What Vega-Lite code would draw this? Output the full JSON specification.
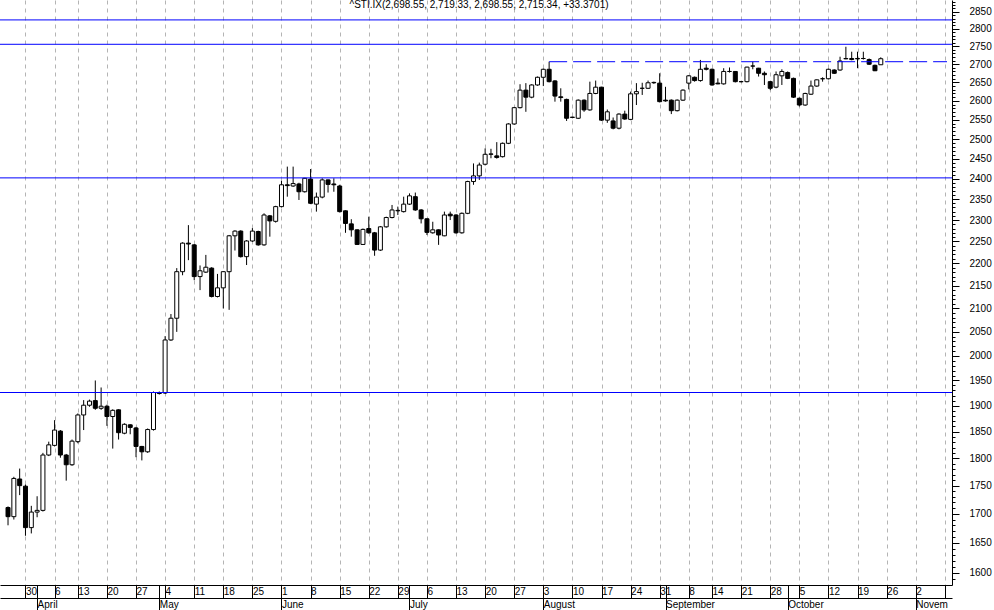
{
  "$schema": "https://vega.github.io/schema/vega-lite/v6.json",
  "width": 952,
  "height": 585,
  "autosize": {"type": "none"},
  "padding": {"left": 0, "top": 0, "right": 42, "bottom": 25},
  "background": "white",
  "title": {"text": "^STI.IX(2,698.55, 2,719.33, 2,698.55, 2,715.34, +33.3701)", "anchor": "middle", "frame": "group", "orient": "top", "offset": -21, "baseline": "alphabetic", "dx": 3, "font": "Liberation Sans", "fontSize": 10, "fontWeight": "normal", "color": "black"},
  "datasets": {
    "candles": [
      {"date":"2009-03-25","i":-3,"o":1711,"h":1713,"l":1680,"c":1695},
      {"date":"2009-03-26","i":-2,"o":1695,"h":1766,"l":1690,"c":1763},
      {"date":"2009-03-27","i":-1,"o":1762,"h":1781,"l":1733,"c":1750},
      {"date":"2009-03-30","i":0,"o":1749,"h":1752,"l":1662,"c":1676},
      {"date":"2009-03-31","i":1,"o":1676,"h":1714,"l":1666,"c":1703},
      {"date":"2009-04-01","i":2,"o":1703,"h":1731,"l":1694,"c":1706},
      {"date":"2009-04-02","i":3,"o":1706,"h":1810,"l":1704,"c":1806},
      {"date":"2009-04-03","i":4,"o":1806,"h":1831,"l":1804,"c":1825},
      {"date":"2009-04-06","i":5,"o":1824,"h":1872,"l":1822,"c":1853},
      {"date":"2009-04-07","i":6,"o":1851,"h":1853,"l":1801,"c":1806},
      {"date":"2009-04-08","i":7,"o":1806,"h":1808,"l":1759,"c":1788},
      {"date":"2009-04-09","i":8,"o":1788,"h":1835,"l":1786,"c":1832},
      {"date":"2009-04-13","i":9,"o":1831,"h":1885,"l":1828,"c":1882},
      {"date":"2009-04-14","i":10,"o":1882,"h":1911,"l":1853,"c":1901},
      {"date":"2009-04-15","i":11,"o":1901,"h":1912,"l":1898,"c":1909},
      {"date":"2009-04-16","i":12,"o":1910,"h":1950,"l":1892,"c":1895},
      {"date":"2009-04-17","i":13,"o":1895,"h":1936,"l":1892,"c":1899},
      {"date":"2009-04-20","i":14,"o":1899,"h":1902,"l":1861,"c":1879},
      {"date":"2009-04-21","i":15,"o":1879,"h":1893,"l":1818,"c":1891},
      {"date":"2009-04-22","i":16,"o":1892,"h":1893,"l":1835,"c":1848},
      {"date":"2009-04-23","i":17,"o":1847,"h":1866,"l":1845,"c":1864},
      {"date":"2009-04-24","i":18,"o":1863,"h":1864,"l":1845,"c":1858},
      {"date":"2009-04-27","i":19,"o":1857,"h":1859,"l":1802,"c":1822},
      {"date":"2009-04-28","i":20,"o":1822,"h":1823,"l":1796,"c":1812},
      {"date":"2009-04-29","i":21,"o":1812,"h":1856,"l":1810,"c":1854},
      {"date":"2009-04-30","i":22,"o":1854,"h":1928,"l":1852,"c":1926},
      {"date":"2009-05-01","i":23,"o":1926,"h":1928,"l":1922,"c":1924},
      {"date":"2009-05-04","i":24,"o":1925,"h":2041,"l":1923,"c":2033},
      {"date":"2009-05-05","i":25,"o":2033,"h":2088,"l":2031,"c":2079},
      {"date":"2009-05-06","i":26,"o":2079,"h":2189,"l":2050,"c":2181},
      {"date":"2009-05-07","i":27,"o":2181,"h":2248,"l":2173,"c":2246},
      {"date":"2009-05-08","i":28,"o":2246,"h":2288,"l":2207,"c":2244},
      {"date":"2009-05-11","i":29,"o":2242,"h":2244,"l":2162,"c":2170},
      {"date":"2009-05-12","i":30,"o":2170,"h":2195,"l":2140,"c":2183},
      {"date":"2009-05-13","i":31,"o":2180,"h":2219,"l":2178,"c":2191},
      {"date":"2009-05-14","i":32,"o":2189,"h":2191,"l":2124,"c":2126},
      {"date":"2009-05-15","i":33,"o":2126,"h":2176,"l":2124,"c":2145},
      {"date":"2009-05-18","i":34,"o":2145,"h":2182,"l":2100,"c":2181},
      {"date":"2009-05-19","i":35,"o":2181,"h":2265,"l":2097,"c":2263},
      {"date":"2009-05-20","i":36,"o":2263,"h":2276,"l":2229,"c":2274},
      {"date":"2009-05-21","i":37,"o":2274,"h":2276,"l":2213,"c":2215},
      {"date":"2009-05-22","i":38,"o":2215,"h":2253,"l":2196,"c":2251},
      {"date":"2009-05-25","i":39,"o":2251,"h":2281,"l":2249,"c":2274},
      {"date":"2009-05-26","i":40,"o":2273,"h":2275,"l":2240,"c":2242},
      {"date":"2009-05-27","i":41,"o":2242,"h":2316,"l":2240,"c":2312},
      {"date":"2009-05-28","i":42,"o":2310,"h":2312,"l":2261,"c":2298},
      {"date":"2009-05-29","i":43,"o":2297,"h":2334,"l":2294,"c":2332},
      {"date":"2009-06-01","i":44,"o":2332,"h":2395,"l":2330,"c":2385},
      {"date":"2009-06-02","i":45,"o":2385,"h":2430,"l":2356,"c":2383},
      {"date":"2009-06-03","i":46,"o":2382,"h":2430,"l":2380,"c":2388},
      {"date":"2009-06-04","i":47,"o":2387,"h":2390,"l":2348,"c":2368},
      {"date":"2009-06-05","i":48,"o":2368,"h":2402,"l":2366,"c":2401},
      {"date":"2009-06-08","i":49,"o":2399,"h":2424,"l":2338,"c":2340},
      {"date":"2009-06-09","i":50,"o":2338,"h":2366,"l":2320,"c":2355},
      {"date":"2009-06-10","i":51,"o":2355,"h":2401,"l":2352,"c":2397},
      {"date":"2009-06-11","i":52,"o":2397,"h":2398,"l":2366,"c":2386},
      {"date":"2009-06-12","i":53,"o":2387,"h":2401,"l":2368,"c":2385},
      {"date":"2009-06-15","i":54,"o":2382,"h":2385,"l":2318,"c":2320},
      {"date":"2009-06-16","i":55,"o":2322,"h":2323,"l":2270,"c":2292},
      {"date":"2009-06-17","i":56,"o":2291,"h":2302,"l":2261,"c":2277},
      {"date":"2009-06-18","i":57,"o":2277,"h":2278,"l":2242,"c":2243},
      {"date":"2009-06-19","i":58,"o":2243,"h":2280,"l":2242,"c":2278},
      {"date":"2009-06-22","i":59,"o":2280,"h":2308,"l":2268,"c":2270},
      {"date":"2009-06-23","i":60,"o":2270,"h":2272,"l":2217,"c":2230},
      {"date":"2009-06-24","i":61,"o":2230,"h":2286,"l":2228,"c":2284},
      {"date":"2009-06-25","i":62,"o":2284,"h":2308,"l":2282,"c":2306},
      {"date":"2009-06-26","i":63,"o":2306,"h":2336,"l":2304,"c":2324},
      {"date":"2009-06-29","i":64,"o":2322,"h":2332,"l":2312,"c":2323},
      {"date":"2009-06-30","i":65,"o":2320,"h":2356,"l":2318,"c":2338},
      {"date":"2009-07-01","i":66,"o":2338,"h":2364,"l":2336,"c":2358},
      {"date":"2009-07-02","i":67,"o":2356,"h":2366,"l":2322,"c":2324},
      {"date":"2009-07-03","i":68,"o":2324,"h":2326,"l":2292,"c":2303},
      {"date":"2009-07-06","i":69,"o":2303,"h":2304,"l":2265,"c":2271},
      {"date":"2009-07-07","i":70,"o":2270,"h":2296,"l":2268,"c":2277},
      {"date":"2009-07-08","i":71,"o":2277,"h":2278,"l":2242,"c":2265},
      {"date":"2009-07-09","i":72,"o":2263,"h":2320,"l":2262,"c":2312},
      {"date":"2009-07-10","i":73,"o":2314,"h":2320,"l":2300,"c":2310},
      {"date":"2009-07-13","i":74,"o":2312,"h":2314,"l":2268,"c":2270},
      {"date":"2009-07-14","i":75,"o":2270,"h":2318,"l":2268,"c":2316},
      {"date":"2009-07-15","i":76,"o":2316,"h":2395,"l":2314,"c":2393},
      {"date":"2009-07-16","i":77,"o":2393,"h":2438,"l":2385,"c":2407},
      {"date":"2009-07-17","i":78,"o":2407,"h":2440,"l":2397,"c":2434},
      {"date":"2009-07-20","i":79,"o":2436,"h":2476,"l":2433,"c":2461},
      {"date":"2009-07-21","i":80,"o":2461,"h":2475,"l":2451,"c":2462},
      {"date":"2009-07-22","i":81,"o":2457,"h":2492,"l":2450,"c":2453},
      {"date":"2009-07-23","i":82,"o":2455,"h":2491,"l":2453,"c":2489},
      {"date":"2009-07-24","i":83,"o":2489,"h":2541,"l":2487,"c":2539},
      {"date":"2009-07-27","i":84,"o":2539,"h":2584,"l":2537,"c":2582},
      {"date":"2009-07-28","i":85,"o":2582,"h":2645,"l":2580,"c":2629},
      {"date":"2009-07-29","i":86,"o":2629,"h":2648,"l":2571,"c":2610},
      {"date":"2009-07-30","i":87,"o":2610,"h":2645,"l":2607,"c":2643},
      {"date":"2009-07-31","i":88,"o":2643,"h":2666,"l":2641,"c":2664},
      {"date":"2009-08-03","i":89,"o":2664,"h":2688,"l":2640,"c":2686},
      {"date":"2009-08-04","i":90,"o":2686,"h":2707,"l":2650,"c":2652},
      {"date":"2009-08-05","i":91,"o":2654,"h":2656,"l":2598,"c":2613},
      {"date":"2009-08-06","i":92,"o":2611,"h":2634,"l":2598,"c":2609},
      {"date":"2009-08-07","i":93,"o":2604,"h":2606,"l":2547,"c":2554},
      {"date":"2009-08-10","i":94,"o":2556,"h":2558,"l":2554,"c":2557},
      {"date":"2009-08-11","i":95,"o":2554,"h":2604,"l":2552,"c":2602},
      {"date":"2009-08-12","i":96,"o":2602,"h":2604,"l":2571,"c":2576},
      {"date":"2009-08-13","i":97,"o":2576,"h":2652,"l":2574,"c":2620},
      {"date":"2009-08-14","i":98,"o":2620,"h":2655,"l":2618,"c":2637},
      {"date":"2009-08-17","i":99,"o":2637,"h":2638,"l":2547,"c":2549},
      {"date":"2009-08-18","i":100,"o":2549,"h":2577,"l":2542,"c":2571},
      {"date":"2009-08-19","i":101,"o":2547,"h":2556,"l":2525,"c":2528},
      {"date":"2009-08-20","i":102,"o":2528,"h":2567,"l":2525,"c":2565},
      {"date":"2009-08-21","i":103,"o":2565,"h":2574,"l":2550,"c":2552},
      {"date":"2009-08-24","i":104,"o":2551,"h":2625,"l":2549,"c":2619},
      {"date":"2009-08-25","i":105,"o":2619,"h":2648,"l":2589,"c":2625},
      {"date":"2009-08-26","i":106,"o":2634,"h":2649,"l":2616,"c":2634},
      {"date":"2009-08-27","i":107,"o":2634,"h":2655,"l":2632,"c":2649},
      {"date":"2009-08-28","i":108,"o":2649,"h":2652,"l":2646,"c":2650},
      {"date":"2009-08-31","i":109,"o":2648,"h":2675,"l":2596,"c":2598},
      {"date":"2009-09-01","i":110,"o":2602,"h":2638,"l":2598,"c":2600},
      {"date":"2009-09-02","i":111,"o":2602,"h":2604,"l":2565,"c":2574},
      {"date":"2009-09-03","i":112,"o":2574,"h":2604,"l":2572,"c":2602},
      {"date":"2009-09-04","i":113,"o":2602,"h":2631,"l":2600,"c":2629},
      {"date":"2009-09-08","i":114,"o":2648,"h":2670,"l":2631,"c":2668},
      {"date":"2009-09-09","i":115,"o":2664,"h":2666,"l":2652,"c":2655},
      {"date":"2009-09-10","i":116,"o":2655,"h":2712,"l":2652,"c":2686},
      {"date":"2009-09-11","i":117,"o":2689,"h":2700,"l":2683,"c":2686},
      {"date":"2009-09-14","i":118,"o":2686,"h":2688,"l":2641,"c":2643},
      {"date":"2009-09-15","i":119,"o":2648,"h":2661,"l":2645,"c":2646},
      {"date":"2009-09-16","i":120,"o":2646,"h":2689,"l":2644,"c":2680},
      {"date":"2009-09-17","i":121,"o":2680,"h":2691,"l":2677,"c":2680},
      {"date":"2009-09-18","i":122,"o":2680,"h":2681,"l":2650,"c":2652},
      {"date":"2009-09-21","i":123,"o":2652,"h":2654,"l":2650,"c":2652},
      {"date":"2009-09-22","i":124,"o":2652,"h":2693,"l":2650,"c":2692},
      {"date":"2009-09-23","i":125,"o":2695,"h":2707,"l":2686,"c":2695},
      {"date":"2009-09-24","i":126,"o":2689,"h":2690,"l":2666,"c":2675},
      {"date":"2009-09-25","i":127,"o":2675,"h":2680,"l":2643,"c":2671},
      {"date":"2009-09-28","i":128,"o":2652,"h":2654,"l":2629,"c":2634},
      {"date":"2009-09-29","i":129,"o":2637,"h":2680,"l":2634,"c":2671},
      {"date":"2009-09-30","i":130,"o":2668,"h":2686,"l":2643,"c":2680},
      {"date":"2009-10-01","i":131,"o":2677,"h":2680,"l":2659,"c":2661},
      {"date":"2009-10-02","i":132,"o":2661,"h":2663,"l":2608,"c":2610},
      {"date":"2009-10-05","i":133,"o":2607,"h":2609,"l":2585,"c":2589},
      {"date":"2009-10-06","i":134,"o":2589,"h":2622,"l":2587,"c":2620},
      {"date":"2009-10-07","i":135,"o":2618,"h":2655,"l":2616,"c":2640},
      {"date":"2009-10-08","i":136,"o":2640,"h":2658,"l":2638,"c":2657},
      {"date":"2009-10-09","i":137,"o":2660,"h":2664,"l":2652,"c":2660},
      {"date":"2009-10-12","i":138,"o":2660,"h":2688,"l":2658,"c":2686},
      {"date":"2009-10-13","i":139,"o":2684,"h":2686,"l":2673,"c":2675},
      {"date":"2009-10-14","i":140,"o":2684,"h":2721,"l":2682,"c":2709},
      {"date":"2009-10-15","i":141,"o":2715,"h":2749,"l":2714,"c":2716},
      {"date":"2009-10-16","i":142,"o":2716,"h":2735,"l":2711,"c":2713},
      {"date":"2009-10-19","i":143,"o":2716,"h":2735,"l":2689,"c":2715},
      {"date":"2009-10-20","i":144,"o":2716,"h":2735,"l":2713,"c":2716},
      {"date":"2009-10-21","i":145,"o":2713,"h":2716,"l":2698,"c":2700},
      {"date":"2009-10-22","i":146,"o":2697,"h":2699,"l":2681,"c":2681.97},
      {"date":"2009-10-23","i":147,"o":2698.55,"h":2719.33,"l":2698.55,"c":2715.34}
    ],
    "levels": [{"v": 2826}, {"v": 2756}, {"v": 2402}, {"v": 1926}],
    "resist": [{"i0": 90, "i1": 158.38, "v": 2707}]
  },
  "layer": [
    {
      "data": {"name": "candles"},
      "mark": {"type": "rule", "color": "black", "strokeWidth": 1},
      "encoding": {
        "x": {
          "field": "i", "type": "quantitative",
          "scale": {"domain": [-3.52, 158.38], "nice": false, "zero": false},
          "axis": {
            "orient": "bottom", "title": null,
            "values": [-5,0,5,9,14,19,24,29,34,39,44,49,54,59,64,69,74,79,84,89,94,99,104,109,114,118,123,128,133,138,143,148,153,158],
            "labelExpr": "['23','30','6','13','20','27','4','11','18','25','1','8','15','22','29','6','13','20','27','3','10','17','24','31','8','14','21','28','5','12','19','26','2',''][indexof([-5,0,5,9,14,19,24,29,34,39,44,49,54,59,64,69,74,79,84,89,94,99,104,109,114,118,123,128,133,138,143,148,153,158], datum.value)]",
            "grid": true, "gridColor": "#b4b4b4", "gridDash": [4, 4], "gridWidth": 1,
            "domain": true, "domainColor": "black", "domainWidth": 1,
            "ticks": true, "tickColor": "black", "tickSize": 13, "tickWidth": 1,
            "labelAlign": "left", "labelBaseline": "top", "labelPadding": -11.5, "labelDx": 2,
            "labelFont": "Liberation Sans", "labelFontSize": 10, "labelColor": "black",
            "labelOverlap": false, "labelFlush": false, "labelBound": false
          }
        },
        "y": {
          "field": "l", "type": "quantitative",
          "scale": {"type": "log", "domain": [1579.9, 2884.5], "nice": false},
          "axis": {
            "orient": "right", "title": null, "grid": false,
            "values": [1590,1600,1610,1620,1630,1640,1650,1660,1670,1680,1690,1700,1710,1720,1730,1740,1750,1760,1770,1780,1790,1800,1810,1820,1830,1840,1850,1860,1870,1880,1890,1900,1910,1920,1930,1940,1950,1960,1970,1980,1990,2000,2010,2020,2030,2040,2050,2060,2070,2080,2090,2100,2110,2120,2130,2140,2150,2160,2170,2180,2190,2200,2210,2220,2230,2240,2250,2260,2270,2280,2290,2300,2310,2320,2330,2340,2350,2360,2370,2380,2390,2400,2410,2420,2430,2440,2450,2460,2470,2480,2490,2500,2510,2520,2530,2540,2550,2560,2570,2580,2590,2600,2610,2620,2630,2640,2650,2660,2670,2680,2690,2700,2710,2720,2730,2740,2750,2760,2770,2780,2790,2800,2810,2820,2830,2840,2850,2860,2870,2880],
            "format": "d",
            "labelExpr": "datum.value % 50 === 0 ? datum.label : ''",
            "domain": true, "domainColor": "black", "domainWidth": 1,
            "ticks": true, "tickColor": "black", "tickWidth": 1,
            "tickSize": {"condition": {"test": "datum.value % 50 === 0", "value": 7}, "value": 3},
            "labelPadding": 10, "labelAlign": "left", "labelBaseline": "middle",
            "labelFont": "Liberation Sans", "labelFontSize": 10, "labelColor": "black",
            "labelOverlap": false, "labelFlush": false, "labelBound": false
          }
        },
        "y2": {"field": "h"}
      }
    },
    {
      "data": {"name": "candles"},
      "mark": {"type": "bar", "size": 4, "stroke": "black", "strokeWidth": 1},
      "encoding": {
        "x": {
          "field": "i", "type": "quantitative",
          "axis": {
            "orient": "bottom", "title": null,
            "values": [2,23,44,66,89,110,131,153],
            "labelExpr": "['April','May','June','July','August','September','October','Novem'][indexof([2,23,44,66,89,110,131,153], datum.value)]",
            "grid": false, "domain": false,
            "ticks": true, "tickColor": "black", "tickSize": 25, "tickWidth": 1,
            "labelAlign": "left", "labelBaseline": "top", "labelPadding": -10.5, "labelDx": 2,
            "labelFont": "Liberation Sans", "labelFontSize": 10, "labelColor": "black",
            "labelOverlap": false, "labelFlush": false, "labelBound": false
          }
        },
        "y": {"field": "o", "type": "quantitative", "axis": null},
        "y2": {"field": "c"},
        "fill": {"condition": {"test": "datum.c < datum.o", "value": "black"}, "value": "white"}
      }
    },
    {
      "data": {"name": "levels"},
      "mark": {"type": "rule", "color": "#0000ff", "strokeWidth": 1},
      "encoding": {
        "y": {"field": "v", "type": "quantitative", "axis": null}
      }
    },
    {
      "data": {"name": "resist"},
      "mark": {"type": "rule", "color": "#0000ff", "strokeWidth": 1, "strokeDash": [18, 6]},
      "encoding": {
        "x": {
          "field": "i0", "type": "quantitative",
          "axis": {"orient": "bottom", "offset": 13, "title": null, "grid": false, "domain": true, "domainColor": "black", "domainWidth": 1, "ticks": false, "labels": false}
        },
        "x2": {"field": "i1"},
        "y": {"field": "v", "type": "quantitative", "axis": null}
      }
    }
  ],
  "resolve": {"axis": {"x": "independent", "y": "independent"}},
  "config": {"view": {"stroke": null}}
}
